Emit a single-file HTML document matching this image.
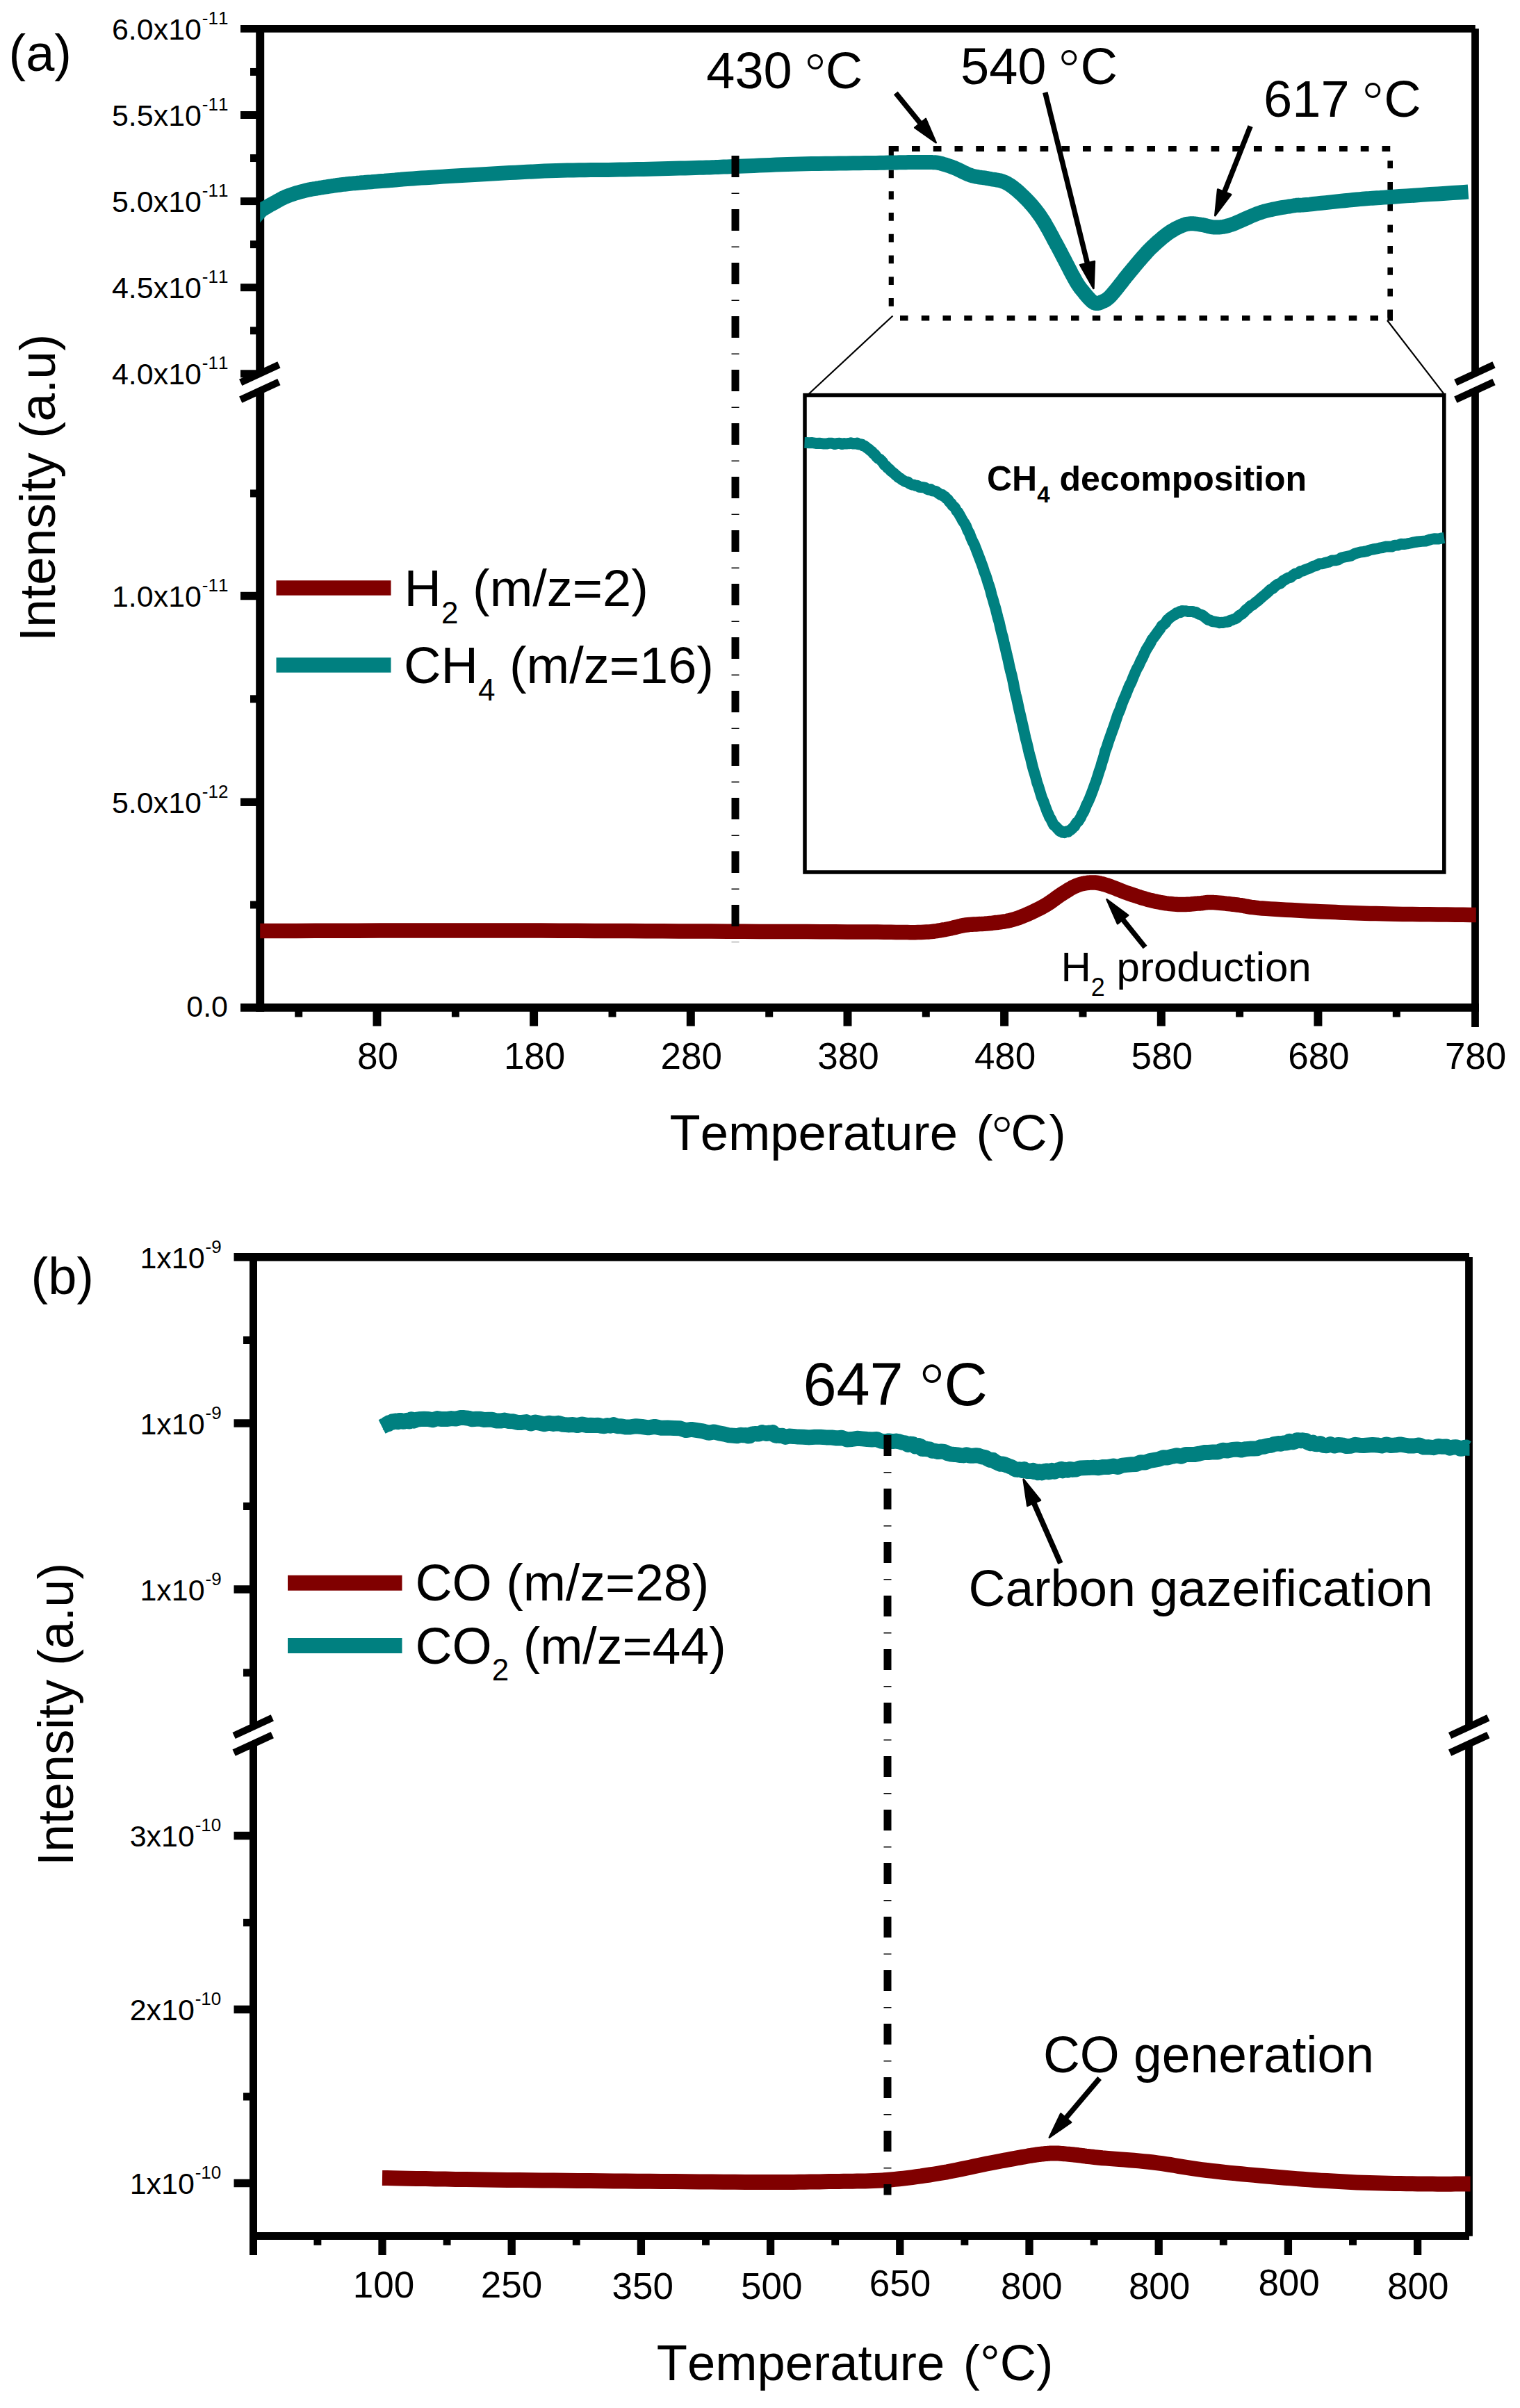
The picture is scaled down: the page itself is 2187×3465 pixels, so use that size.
<!DOCTYPE html>
<html lang="en"><head><meta charset="utf-8"><title>TPSR MS profiles</title>
<style>html,body{margin:0;padding:0;background:#fff}svg{display:block}text{font-family:"Liberation Sans", Arial, sans-serif;fill:#000;font-kerning:none}</style>
</head><body>
<svg width="2187" height="3465" viewBox="0 0 2187 3465">
<rect width="2187" height="3465" fill="#fff"/>
<g id="chart-a">
<line x1="1281.25" y1="214" x2="2004" y2="214" stroke="#000" stroke-width="7.8" stroke-dasharray="11.75 19"/>
<line x1="1282.3" y1="210.1" x2="1282.3" y2="445" stroke="#000" stroke-width="7.2" stroke-dasharray="15.4 19 11.75 19 11.75 19 11.75 19 11.75 19 11.75 19 11.75 19 11.75 19"/>
<line x1="2000.2" y1="231.3" x2="2000.2" y2="461.6" stroke="#000" stroke-width="7.6" stroke-dasharray="11 19.7"/>
<line x1="1295" y1="457.8" x2="1990" y2="457.8" stroke="#000" stroke-width="7.6" stroke-dasharray="11.5 19.25"/>
<rect x="1996.4" y="445.5" width="7.6" height="16.1" fill="#000"/>
<line x1="1284.5" y1="454.5" x2="1163.5" y2="567" stroke="#000" stroke-width="2.2" />
<line x1="1996" y1="461" x2="2077.6" y2="566.8" stroke="#000" stroke-width="2.2" />
<rect x="1158" y="568.6" width="919.8" height="686.4" fill="none" stroke="#000" stroke-width="5.5"/>
<path d="M1157.5 637.0 L1160.3 637.1 L1164.2 637.3 L1168.7 637.1 L1173.8 637.9 L1179.0 637.8 L1184.2 638.4 L1189.1 638.6 L1193.4 637.7 L1197.3 637.7 L1201.0 639.1 L1204.6 638.0 L1208.1 637.8 L1211.4 639.1 L1214.5 638.0 L1217.4 638.6 L1220.0 638.0 L1222.3 638.2 L1224.2 637.3 L1225.9 638.1 L1227.4 638.5 L1228.7 637.9 L1230.1 638.4 L1231.6 638.5 L1233.2 637.7 L1234.9 639.3 L1236.6 639.4 L1238.4 639.3 L1240.1 639.4 L1241.9 641.5 L1243.8 641.6 L1245.7 643.1 L1247.7 644.7 L1249.8 646.0 L1252.0 648.2 L1254.2 649.4 L1256.5 652.4 L1258.9 654.1 L1261.2 657.4 L1263.5 659.7 L1265.8 660.6 L1268.1 662.9 L1270.3 665.4 L1272.6 669.1 L1274.8 670.5 L1277.1 673.2 L1279.4 674.9 L1281.6 677.4 L1283.9 679.2 L1286.2 681.0 L1288.4 683.2 L1290.7 684.9 L1293.0 687.1 L1295.2 688.2 L1297.5 690.1 L1299.7 691.4 L1302.0 692.9 L1304.2 693.5 L1306.4 693.6 L1308.6 695.8 L1310.8 696.9 L1313.0 697.6 L1315.2 697.8 L1317.6 698.8 L1320.0 698.8 L1322.6 700.7 L1325.3 701.0 L1328.1 701.3 L1330.9 701.6 L1333.7 703.8 L1336.5 704.8 L1339.2 704.1 L1341.8 706.3 L1344.3 706.7 L1346.7 707.2 L1349.0 708.6 L1351.3 710.6 L1353.5 712.0 L1355.7 711.8 L1357.8 714.2 L1359.9 714.8 L1361.9 717.6 L1363.7 718.6 L1365.4 721.3 L1367.1 723.3 L1368.8 724.5 L1370.5 727.6 L1372.3 728.8 L1374.3 731.1 L1376.4 735.1 L1378.6 737.4 L1380.8 741.3 L1383.1 745.4 L1385.4 749.7 L1387.8 753.1 L1390.1 757.2 L1392.4 763.3 L1394.7 767.1 L1397.0 773.4 L1399.3 778.7 L1401.7 783.3 L1404.0 789.1 L1406.2 794.9 L1408.4 800.7 L1410.5 806.2 L1412.5 811.5 L1414.4 816.8 L1416.2 822.6 L1418.0 827.1 L1419.7 832.3 L1421.5 838.3 L1423.2 843.1 L1425.0 849.1 L1426.8 856.6 L1428.6 862.2 L1430.4 868.8 L1432.2 874.6 L1434.1 882.2 L1435.9 889.5 L1437.7 895.6 L1439.5 903.9 L1441.3 911.3 L1443.1 917.7 L1444.9 926.3 L1446.8 933.8 L1448.6 941.9 L1450.4 949.2 L1452.2 957.8 L1454.0 965.7 L1455.8 972.4 L1457.6 980.6 L1459.4 989.9 L1461.2 998.7 L1463.0 1005.6 L1464.8 1014.2 L1466.6 1022.6 L1468.4 1030.1 L1470.2 1038.1 L1472.0 1045.9 L1473.8 1054.0 L1475.6 1062.2 L1477.5 1069.4 L1479.3 1077.1 L1481.1 1085.2 L1482.9 1091.0 L1484.7 1099.0 L1486.5 1106.1 L1488.3 1112.0 L1490.2 1118.3 L1492.0 1125.7 L1493.8 1130.7 L1495.6 1136.5 L1497.4 1142.5 L1499.2 1148.3 L1501.1 1152.5 L1503.0 1157.9 L1504.8 1162.7 L1506.7 1168.0 L1508.4 1171.5 L1510.2 1176.0 L1511.8 1178.2 L1513.3 1181.4 L1514.8 1184.5 L1516.2 1187.1 L1517.5 1188.1 L1518.8 1189.2 L1520.1 1190.4 L1521.4 1192.4 L1522.7 1192.9 L1524.0 1195.1 L1525.2 1196.1 L1526.5 1195.7 L1527.7 1196.5 L1528.9 1197.8 L1530.2 1197.8 L1531.5 1198.2 L1532.8 1197.2 L1534.2 1196.6 L1535.5 1196.5 L1536.9 1196.9 L1538.3 1195.3 L1539.8 1194.5 L1541.3 1193.5 L1542.8 1192.1 L1544.4 1190.3 L1546.0 1189.3 L1547.7 1185.8 L1549.5 1183.2 L1551.2 1182.3 L1553.1 1179.3 L1555.0 1176.3 L1556.9 1171.7 L1558.9 1168.7 L1561.0 1164.3 L1563.2 1158.4 L1565.4 1154.2 L1567.7 1149.0 L1570.1 1143.0 L1572.4 1136.9 L1574.7 1130.4 L1577.0 1124.2 L1579.2 1117.5 L1581.4 1110.3 L1583.6 1104.1 L1585.8 1096.2 L1588.0 1089.6 L1590.2 1080.7 L1592.6 1074.7 L1595.0 1066.9 L1597.5 1059.9 L1600.2 1052.3 L1602.9 1044.7 L1605.7 1036.4 L1608.5 1027.8 L1611.3 1021.7 L1614.1 1013.4 L1616.8 1006.6 L1619.5 1000.5 L1622.2 993.6 L1624.9 987.0 L1627.7 981.6 L1630.4 974.8 L1633.1 968.3 L1635.8 962.3 L1638.5 957.7 L1641.2 951.4 L1643.9 946.4 L1646.6 940.3 L1649.3 934.8 L1652.1 930.3 L1654.8 926.0 L1657.5 920.3 L1660.2 917.1 L1663.0 913.3 L1665.8 909.2 L1668.7 905.6 L1671.6 900.7 L1674.4 898.6 L1677.1 896.1 L1679.6 892.0 L1681.9 890.1 L1684.0 888.1 L1685.9 887.0 L1687.6 885.6 L1689.2 884.7 L1690.7 884.5 L1692.2 882.4 L1693.6 881.9 L1695.0 881.3 L1696.3 880.7 L1697.5 880.0 L1698.6 881.2 L1699.6 880.7 L1700.7 879.0 L1701.9 879.6 L1703.3 879.2 L1704.9 879.2 L1706.8 879.3 L1708.8 879.9 L1711.1 880.0 L1713.4 879.9 L1715.9 880.0 L1718.3 880.7 L1720.7 881.0 L1723.0 882.5 L1725.3 883.8 L1727.5 884.4 L1729.8 885.2 L1732.0 886.9 L1734.3 888.7 L1736.6 890.6 L1738.8 892.1 L1741.1 892.4 L1743.4 893.9 L1745.6 894.3 L1747.9 894.6 L1750.1 895.0 L1752.4 895.6 L1754.7 896.2 L1756.9 895.7 L1759.2 896.1 L1761.4 895.5 L1763.6 894.8 L1765.7 894.9 L1767.8 894.5 L1770.0 892.6 L1772.3 892.3 L1774.7 891.1 L1777.3 890.4 L1780.1 888.7 L1783.0 885.6 L1786.1 884.1 L1789.3 881.4 L1792.5 877.7 L1795.8 875.3 L1799.2 871.9 L1802.6 870.4 L1806.0 867.3 L1809.6 864.7 L1813.2 861.5 L1816.9 858.2 L1820.6 855.3 L1824.3 852.0 L1828.0 848.3 L1831.6 846.5 L1835.2 842.9 L1838.8 840.6 L1842.4 839.4 L1846.0 835.8 L1849.7 833.7 L1853.3 831.5 L1856.9 830.9 L1860.5 827.6 L1864.1 825.4 L1867.6 825.1 L1871.1 822.0 L1874.5 821.6 L1878.1 819.7 L1881.7 818.4 L1885.5 817.1 L1889.5 814.9 L1893.7 813.9 L1898.0 811.2 L1902.6 811.2 L1907.2 809.6 L1911.8 808.7 L1916.5 806.4 L1921.1 806.3 L1925.7 805.4 L1930.2 802.5 L1934.7 801.5 L1939.2 800.6 L1943.8 799.6 L1948.3 797.2 L1952.8 795.7 L1957.3 794.5 L1961.8 794.0 L1966.3 793.2 L1970.8 791.5 L1975.4 790.5 L1979.9 789.7 L1984.4 788.7 L1988.9 788.0 L1993.5 786.6 L1998.0 786.5 L2002.5 786.5 L2006.9 784.7 L2011.2 784.6 L2015.6 782.8 L2020.1 783.0 L2024.6 782.4 L2029.3 781.5 L2034.2 780.4 L2039.6 779.5 L2045.6 778.9 L2052.0 778.4 L2058.4 776.1 L2064.4 775.2 L2070.0 775.5 L2074.6 774.4 L2078.0 773.9" fill="none" stroke="#008080" stroke-width="16" stroke-linecap="butt" stroke-linejoin="round" />
<text x="1420" y="706" font-size="50" font-weight="bold">CH<tspan font-size="33" dy="17">4</tspan><tspan dy="-17"> decomposition</tspan></text>
<line x1="346" y1="41.4" x2="2122.7" y2="41.4" stroke="#000" stroke-width="10.8" />
<line x1="346" y1="1449.9" x2="2128" y2="1449.9" stroke="#000" stroke-width="11.9" />
<line x1="374.2" y1="36" x2="374.2" y2="1455.8" stroke="#000" stroke-width="12" />
<line x1="2122.5" y1="41.2" x2="2122.5" y2="1478" stroke="#000" stroke-width="10.8" />
<text x="290" y="56.9" font-size="43" text-anchor="end">6.0x10<tspan x="290.8" dy="-22" font-size="26" text-anchor="start">-11</tspan></text>
<line x1="360" y1="103.44999999999999" x2="370" y2="103.44999999999999" stroke="#000" stroke-width="11" />
<line x1="346" y1="165.5" x2="370" y2="165.5" stroke="#000" stroke-width="11" />
<text x="290" y="181.0" font-size="43" text-anchor="end">5.5x10<tspan x="290.8" dy="-22" font-size="26" text-anchor="start">-11</tspan></text>
<line x1="360" y1="227.55" x2="370" y2="227.55" stroke="#000" stroke-width="11" />
<line x1="346" y1="289.59999999999997" x2="370" y2="289.59999999999997" stroke="#000" stroke-width="11" />
<text x="290" y="305.1" font-size="43" text-anchor="end">5.0x10<tspan x="290.8" dy="-22" font-size="26" text-anchor="start">-11</tspan></text>
<line x1="360" y1="351.65" x2="370" y2="351.65" stroke="#000" stroke-width="11" />
<line x1="346" y1="413.69999999999993" x2="370" y2="413.69999999999993" stroke="#000" stroke-width="11" />
<text x="290" y="429.2" font-size="43" text-anchor="end">4.5x10<tspan x="290.8" dy="-22" font-size="26" text-anchor="start">-11</tspan></text>
<line x1="360" y1="475.74999999999994" x2="370" y2="475.74999999999994" stroke="#000" stroke-width="11" />
<line x1="346" y1="537.8" x2="370" y2="537.8" stroke="#000" stroke-width="11" />
<text x="290" y="553.3" font-size="43" text-anchor="end">4.0x10<tspan x="290.8" dy="-22" font-size="26" text-anchor="start">-11</tspan></text>
<line x1="346" y1="857.5" x2="370" y2="857.5" stroke="#000" stroke-width="11.5" />
<text x="290" y="873.0" font-size="43" text-anchor="end">1.0x10<tspan x="290.8" dy="-22" font-size="26" text-anchor="start">-11</tspan></text>
<line x1="346" y1="1154.2" x2="370" y2="1154.2" stroke="#000" stroke-width="11.5" />
<text x="290" y="1169.7" font-size="43" text-anchor="end">5.0x10<tspan x="290.8" dy="-22" font-size="26" text-anchor="start">-12</tspan></text>
<text x="328" y="1462.5" font-size="43" text-anchor="end" >0.0</text>
<line x1="360" y1="710" x2="370" y2="710" stroke="#000" stroke-width="11" />
<line x1="360" y1="1005.8" x2="370" y2="1005.8" stroke="#000" stroke-width="11" />
<line x1="360" y1="1302" x2="370" y2="1302" stroke="#000" stroke-width="11" />
<line x1="361.8" y1="555.57" x2="385.8" y2="544.43" stroke="#fff" stroke-width="13.5" />
<line x1="346.2" y1="550.4" x2="401.4" y2="524.8" stroke="#000" stroke-width="10.1" />
<line x1="346.2" y1="575.2" x2="401.4" y2="549.6" stroke="#000" stroke-width="10.1" />
<line x1="2109.9" y1="555.62" x2="2133.9" y2="544.48" stroke="#fff" stroke-width="13.5" />
<line x1="2094.3" y1="550.5" x2="2149.5" y2="524.9" stroke="#000" stroke-width="10.1" />
<line x1="2094.3" y1="575.2" x2="2149.5" y2="549.6" stroke="#000" stroke-width="10.1" />
<line x1="542.5" y1="1450" x2="542.5" y2="1476.5" stroke="#000" stroke-width="12" />
<text x="543.5" y="1537.6" font-size="53" text-anchor="middle" >80</text>
<line x1="429.7" y1="1450" x2="429.7" y2="1463.5" stroke="#000" stroke-width="11" />
<line x1="768.1" y1="1450" x2="768.1" y2="1476.5" stroke="#000" stroke-width="12" />
<text x="769.1" y="1537.6" font-size="53" text-anchor="middle" >180</text>
<line x1="655.4" y1="1450" x2="655.4" y2="1463.5" stroke="#000" stroke-width="11" />
<line x1="993.8" y1="1450" x2="993.8" y2="1476.5" stroke="#000" stroke-width="12" />
<text x="994.8" y="1537.6" font-size="53" text-anchor="middle" >280</text>
<line x1="881.0" y1="1450" x2="881.0" y2="1463.5" stroke="#000" stroke-width="11" />
<line x1="1219.5" y1="1450" x2="1219.5" y2="1476.5" stroke="#000" stroke-width="12" />
<text x="1220.5" y="1537.6" font-size="53" text-anchor="middle" >380</text>
<line x1="1106.7" y1="1450" x2="1106.7" y2="1463.5" stroke="#000" stroke-width="11" />
<line x1="1445.1" y1="1450" x2="1445.1" y2="1476.5" stroke="#000" stroke-width="12" />
<text x="1446.1" y="1537.6" font-size="53" text-anchor="middle" >480</text>
<line x1="1332.3" y1="1450" x2="1332.3" y2="1463.5" stroke="#000" stroke-width="11" />
<line x1="1670.8" y1="1450" x2="1670.8" y2="1476.5" stroke="#000" stroke-width="12" />
<text x="1671.8" y="1537.6" font-size="53" text-anchor="middle" >580</text>
<line x1="1558.0" y1="1450" x2="1558.0" y2="1463.5" stroke="#000" stroke-width="11" />
<line x1="1896.4" y1="1450" x2="1896.4" y2="1476.5" stroke="#000" stroke-width="12" />
<text x="1897.4" y="1537.6" font-size="53" text-anchor="middle" >680</text>
<line x1="1783.6" y1="1450" x2="1783.6" y2="1463.5" stroke="#000" stroke-width="11" />
<text x="2123.1" y="1537.6" font-size="53" text-anchor="middle" >780</text>
<line x1="2009.3" y1="1450" x2="2009.3" y2="1463.5" stroke="#000" stroke-width="11" />
<clipPath id="clipA"><rect x="374.2" y="0" width="1749.6" height="1500"/></clipPath>
<g clip-path="url(#clipA)">
<path d="M360.0 321.0 L360.7 320.2 L361.6 319.1 L362.7 317.8 L363.9 316.3 L365.2 314.8 L366.5 313.1 L367.9 311.5 L369.3 309.8 L370.7 308.3 L372.0 306.8 L373.2 305.6 L374.2 304.5 L375.1 303.6 L376.0 302.9 L376.8 302.2 L377.5 301.6 L378.2 301.2 L378.9 300.7 L379.5 300.3 L380.2 299.9 L380.8 299.6 L381.5 299.2 L382.2 298.8 L383.0 298.3 L383.8 297.8 L384.5 297.4 L385.2 297.0 L385.9 296.6 L386.6 296.2 L387.3 295.8 L388.0 295.3 L388.8 294.9 L389.7 294.4 L390.7 293.9 L391.7 293.3 L392.9 292.7 L394.2 292.0 L395.5 291.2 L397.0 290.4 L398.5 289.6 L400.1 288.7 L401.7 287.8 L403.4 286.8 L405.2 285.9 L407.0 285.0 L408.8 284.1 L410.7 283.3 L412.6 282.5 L414.6 281.7 L416.6 281.0 L418.7 280.2 L420.9 279.5 L423.1 278.8 L425.3 278.1 L427.6 277.4 L429.9 276.7 L432.2 276.1 L434.4 275.4 L436.7 274.9 L438.9 274.3 L441.1 273.8 L443.3 273.3 L445.5 272.8 L447.7 272.4 L449.9 272.0 L452.1 271.6 L454.3 271.3 L456.5 270.9 L458.7 270.6 L460.9 270.2 L463.1 269.9 L465.3 269.5 L467.5 269.1 L469.7 268.8 L471.9 268.5 L474.1 268.1 L476.3 267.8 L478.5 267.5 L480.6 267.2 L482.8 266.8 L485.0 266.5 L487.2 266.3 L489.4 266.0 L491.6 265.7 L493.7 265.4 L495.8 265.2 L497.8 265.0 L499.8 264.7 L501.8 264.5 L503.8 264.3 L505.8 264.1 L508.0 263.9 L510.2 263.7 L512.6 263.5 L515.2 263.2 L517.9 263.0 L520.9 262.7 L524.0 262.5 L527.4 262.2 L530.8 261.9 L534.4 261.7 L538.1 261.4 L541.8 261.1 L545.5 260.8 L549.3 260.5 L552.9 260.3 L556.5 260.0 L560.0 259.7 L563.2 259.4 L566.1 259.2 L568.7 259.0 L571.3 258.7 L573.8 258.5 L576.4 258.3 L579.2 258.0 L582.3 257.8 L585.8 257.5 L589.9 257.2 L594.6 256.9 L600.0 256.5 L606.2 256.1 L613.2 255.7 L620.8 255.2 L628.9 254.7 L637.4 254.1 L646.2 253.6 L655.3 253.1 L664.4 252.5 L673.6 252.0 L682.6 251.5 L691.5 251.0 L700.0 250.5 L708.3 250.0 L716.7 249.6 L725.0 249.1 L733.3 248.6 L741.7 248.2 L750.0 247.7 L758.3 247.3 L766.7 246.9 L775.0 246.5 L783.3 246.1 L791.7 245.8 L800.0 245.5 L808.3 245.3 L816.7 245.1 L825.0 244.9 L833.3 244.8 L841.7 244.7 L850.0 244.6 L858.3 244.5 L866.7 244.4 L875.0 244.4 L883.3 244.3 L891.7 244.1 L900.0 244.0 L908.5 243.8 L917.2 243.6 L926.0 243.4 L934.9 243.2 L943.8 243.0 L952.7 242.8 L961.4 242.6 L969.9 242.3 L978.0 242.1 L985.8 241.9 L993.2 241.7 L1000.0 241.5 L1006.1 241.3 L1011.6 241.2 L1016.4 241.0 L1020.9 240.9 L1025.0 240.7 L1028.9 240.6 L1032.9 240.4 L1036.9 240.3 L1041.2 240.1 L1045.9 239.9 L1051.1 239.7 L1057.0 239.5 L1063.4 239.3 L1070.2 239.0 L1077.3 238.7 L1084.7 238.4 L1092.3 238.1 L1100.2 237.7 L1108.2 237.4 L1116.4 237.1 L1124.7 236.8 L1133.1 236.5 L1141.5 236.2 L1150.0 236.0 L1158.8 235.8 L1168.0 235.6 L1177.7 235.4 L1187.6 235.3 L1197.7 235.2 L1207.7 235.0 L1217.6 234.9 L1227.1 234.8 L1236.3 234.7 L1244.9 234.6 L1252.9 234.5 L1260.0 234.4 L1266.3 234.3 L1272.0 234.2 L1277.2 234.1 L1281.9 234.0 L1286.1 234.0 L1290.0 233.9 L1293.6 233.8 L1297.0 233.8 L1300.3 233.7 L1303.5 233.7 L1306.7 233.6 L1310.0 233.6 L1313.3 233.6 L1316.4 233.5 L1319.3 233.5 L1322.1 233.5 L1324.8 233.5 L1327.4 233.5 L1329.8 233.5 L1332.1 233.5 L1334.2 233.5 L1336.3 233.5 L1338.2 233.6 L1340.0 233.6 L1341.6 233.6 L1342.9 233.7 L1344.1 233.7 L1345.0 233.7 L1345.8 233.7 L1346.6 233.8 L1347.3 233.9 L1348.0 234.0 L1348.8 234.1 L1349.7 234.3 L1350.8 234.5 L1352.0 234.8 L1353.4 235.1 L1354.9 235.5 L1356.4 235.9 L1358.0 236.4 L1359.7 236.9 L1361.4 237.4 L1363.2 238.0 L1365.0 238.6 L1366.9 239.2 L1368.7 239.9 L1370.6 240.6 L1372.5 241.3 L1374.4 242.1 L1376.4 243.0 L1378.4 243.9 L1380.5 244.9 L1382.6 246.0 L1384.7 247.0 L1386.9 248.1 L1389.0 249.1 L1391.1 250.1 L1393.3 251.0 L1395.4 251.8 L1397.5 252.5 L1399.6 253.1 L1401.7 253.6 L1403.8 254.1 L1405.8 254.4 L1407.9 254.8 L1410.0 255.1 L1412.1 255.4 L1414.2 255.6 L1416.2 255.9 L1418.3 256.2 L1420.4 256.6 L1422.5 257.0 L1424.6 257.4 L1426.7 257.8 L1428.8 258.1 L1430.8 258.4 L1432.9 258.7 L1435.0 259.1 L1437.1 259.5 L1439.2 259.9 L1441.2 260.5 L1443.3 261.2 L1445.4 262.0 L1447.5 263.0 L1449.6 264.1 L1451.7 265.4 L1453.8 266.7 L1455.8 268.1 L1457.9 269.7 L1460.0 271.3 L1462.1 273.0 L1464.2 274.8 L1466.2 276.6 L1468.3 278.5 L1470.4 280.5 L1472.5 282.5 L1474.6 284.6 L1476.7 286.7 L1478.8 288.8 L1480.8 291.0 L1482.9 293.3 L1485.0 295.7 L1487.1 298.2 L1489.2 300.7 L1491.2 303.3 L1493.3 306.1 L1495.4 309.0 L1497.5 312.0 L1499.6 315.2 L1501.7 318.5 L1503.8 322.0 L1505.8 325.6 L1507.9 329.2 L1510.0 333.0 L1512.1 336.9 L1514.2 340.7 L1516.2 344.7 L1518.3 348.6 L1520.4 352.4 L1522.5 356.3 L1524.6 360.2 L1526.8 364.4 L1529.0 368.7 L1531.3 373.0 L1533.5 377.4 L1535.8 381.7 L1538.0 386.0 L1540.1 390.1 L1542.1 394.0 L1544.1 397.6 L1545.9 400.9 L1547.5 403.8 L1549.0 406.3 L1550.3 408.5 L1551.6 410.4 L1552.7 412.1 L1553.7 413.5 L1554.7 414.8 L1555.6 416.0 L1556.5 417.0 L1557.3 418.1 L1558.2 419.1 L1559.1 420.2 L1560.0 421.3 L1560.9 422.5 L1561.8 423.6 L1562.7 424.7 L1563.6 425.8 L1564.5 426.8 L1565.3 427.7 L1566.2 428.7 L1567.0 429.5 L1567.8 430.4 L1568.5 431.1 L1569.3 431.8 L1570.0 432.5 L1570.7 433.1 L1571.3 433.7 L1571.9 434.1 L1572.5 434.6 L1573.1 435.0 L1573.6 435.3 L1574.2 435.6 L1574.7 435.9 L1575.2 436.1 L1575.8 436.3 L1576.4 436.4 L1577.0 436.5 L1577.6 436.6 L1578.2 436.6 L1578.8 436.6 L1579.4 436.5 L1580.0 436.4 L1580.7 436.3 L1581.3 436.1 L1582.0 435.8 L1582.7 435.6 L1583.4 435.3 L1584.2 434.9 L1585.0 434.5 L1585.8 434.1 L1586.7 433.8 L1587.5 433.4 L1588.4 433.1 L1589.3 432.7 L1590.2 432.2 L1591.2 431.6 L1592.2 430.9 L1593.4 430.1 L1594.6 429.0 L1596.0 427.8 L1597.5 426.3 L1599.2 424.5 L1601.0 422.4 L1603.0 420.0 L1605.2 417.3 L1607.4 414.6 L1609.7 411.7 L1612.0 408.8 L1614.3 405.9 L1616.5 403.0 L1618.6 400.3 L1620.6 397.8 L1622.5 395.5 L1624.2 393.4 L1625.8 391.4 L1627.4 389.5 L1628.9 387.7 L1630.3 386.0 L1631.7 384.3 L1633.1 382.6 L1634.4 381.0 L1635.8 379.4 L1637.1 377.8 L1638.5 376.2 L1640.0 374.5 L1641.5 372.8 L1642.9 371.2 L1644.3 369.5 L1645.8 367.9 L1647.2 366.3 L1648.7 364.7 L1650.1 363.0 L1651.6 361.4 L1653.1 359.8 L1654.7 358.2 L1656.3 356.6 L1658.0 355.0 L1659.8 353.3 L1661.6 351.6 L1663.5 349.9 L1665.4 348.2 L1667.4 346.4 L1669.4 344.7 L1671.4 343.0 L1673.4 341.3 L1675.4 339.7 L1677.3 338.2 L1679.2 336.8 L1681.0 335.5 L1682.7 334.3 L1684.5 333.1 L1686.2 332.1 L1687.9 331.1 L1689.5 330.1 L1691.1 329.2 L1692.7 328.4 L1694.3 327.6 L1695.8 326.9 L1697.2 326.2 L1698.6 325.6 L1700.0 325.0 L1701.3 324.5 L1702.5 324.0 L1703.6 323.6 L1704.6 323.2 L1705.6 322.9 L1706.6 322.6 L1707.6 322.4 L1708.6 322.2 L1709.6 322.1 L1710.7 322.0 L1711.8 321.9 L1713.0 321.8 L1714.3 321.8 L1715.6 321.8 L1716.9 321.8 L1718.3 321.9 L1719.7 322.1 L1721.2 322.2 L1722.6 322.4 L1724.1 322.6 L1725.6 322.8 L1727.1 323.1 L1728.5 323.3 L1730.0 323.5 L1731.4 323.8 L1732.9 324.1 L1734.3 324.4 L1735.7 324.8 L1737.2 325.2 L1738.6 325.6 L1740.1 325.9 L1741.6 326.3 L1743.1 326.6 L1744.7 326.8 L1746.3 326.9 L1748.0 327.0 L1749.7 327.0 L1751.3 327.0 L1752.9 327.0 L1754.5 326.9 L1756.1 326.8 L1757.8 326.6 L1759.6 326.4 L1761.5 326.0 L1763.6 325.6 L1765.8 325.0 L1768.3 324.3 L1771.0 323.5 L1774.0 322.5 L1777.2 321.2 L1780.7 319.7 L1784.4 318.1 L1788.2 316.4 L1792.1 314.6 L1796.1 312.8 L1800.2 311.0 L1804.2 309.3 L1808.2 307.7 L1812.2 306.3 L1816.0 305.0 L1819.8 303.9 L1823.8 302.9 L1827.9 301.9 L1832.0 301.0 L1836.1 300.2 L1840.1 299.4 L1844.1 298.7 L1847.9 298.1 L1851.6 297.5 L1855.0 297.0 L1858.2 296.5 L1861.0 296.0 L1863.3 295.6 L1865.1 295.4 L1866.3 295.2 L1867.3 295.2 L1868.1 295.1 L1868.8 295.2 L1869.6 295.2 L1870.7 295.2 L1872.1 295.1 L1874.1 295.0 L1876.6 294.8 L1880.0 294.5 L1884.2 294.1 L1889.2 293.5 L1894.9 292.9 L1901.1 292.3 L1907.6 291.6 L1914.4 290.9 L1921.2 290.1 L1928.0 289.4 L1934.7 288.7 L1940.9 288.1 L1946.8 287.5 L1952.0 287.0 L1956.5 286.6 L1960.2 286.3 L1963.5 286.0 L1966.4 285.8 L1969.1 285.6 L1971.8 285.4 L1974.6 285.2 L1977.8 285.0 L1981.4 284.7 L1985.7 284.5 L1990.9 284.1 L1997.0 283.7 L2004.5 283.2 L2013.5 282.6 L2023.6 281.9 L2034.6 281.2 L2046.0 280.4 L2057.6 279.6 L2069.0 278.9 L2079.9 278.2 L2090.1 277.5 L2099.1 276.9 L2106.7 276.4 L2112.5 276.0" fill="none" stroke="#008080" stroke-width="21" stroke-linecap="butt" stroke-linejoin="round" />
<path d="M366.0 1339.5 L382.2 1339.5 L402.7 1339.4 L426.8 1339.4 L453.9 1339.3 L483.2 1339.3 L514.2 1339.2 L546.3 1339.1 L578.8 1339.1 L611.1 1339.0 L642.4 1339.0 L672.3 1339.0 L700.0 1339.0 L726.3 1339.0 L752.5 1339.1 L778.6 1339.1 L804.4 1339.2 L829.9 1339.3 L855.2 1339.4 L880.3 1339.5 L905.0 1339.6 L929.3 1339.7 L953.3 1339.8 L976.9 1339.9 L1000.0 1340.0 L1023.1 1340.1 L1046.6 1340.2 L1070.1 1340.3 L1093.5 1340.4 L1116.6 1340.4 L1139.1 1340.5 L1160.8 1340.6 L1181.5 1340.7 L1201.0 1340.8 L1219.0 1340.9 L1235.5 1340.9 L1250.0 1341.0 L1262.5 1341.1 L1273.1 1341.2 L1282.0 1341.3 L1289.4 1341.4 L1295.7 1341.5 L1300.9 1341.6 L1305.4 1341.6 L1309.4 1341.7 L1313.2 1341.7 L1316.8 1341.7 L1320.7 1341.6 L1325.0 1341.5 L1329.3 1341.3 L1333.2 1341.1 L1336.7 1340.9 L1339.8 1340.6 L1342.7 1340.3 L1345.3 1339.9 L1347.8 1339.6 L1350.2 1339.2 L1352.5 1338.8 L1354.9 1338.4 L1357.4 1337.9 L1360.0 1337.5 L1362.7 1337.0 L1365.2 1336.5 L1367.7 1336.0 L1370.2 1335.4 L1372.6 1334.8 L1375.0 1334.2 L1377.4 1333.6 L1379.8 1333.0 L1382.3 1332.4 L1384.8 1331.9 L1387.3 1331.4 L1390.0 1331.0 L1392.7 1330.7 L1395.5 1330.4 L1398.4 1330.2 L1401.3 1330.0 L1404.2 1329.9 L1407.2 1329.7 L1410.2 1329.6 L1413.1 1329.4 L1416.1 1329.3 L1419.1 1329.1 L1422.1 1328.8 L1425.0 1328.5 L1427.9 1328.2 L1430.8 1327.8 L1433.6 1327.5 L1436.5 1327.2 L1439.3 1326.8 L1442.2 1326.4 L1445.1 1326.0 L1448.0 1325.5 L1450.9 1324.9 L1453.9 1324.2 L1456.9 1323.4 L1460.0 1322.5 L1463.2 1321.5 L1466.5 1320.3 L1469.9 1319.0 L1473.3 1317.6 L1476.8 1316.2 L1480.3 1314.6 L1483.8 1313.1 L1487.2 1311.4 L1490.6 1309.8 L1493.9 1308.2 L1497.0 1306.6 L1500.0 1305.0 L1502.9 1303.4 L1505.7 1301.7 L1508.4 1300.0 L1511.1 1298.2 L1513.7 1296.4 L1516.2 1294.6 L1518.7 1292.8 L1521.1 1291.1 L1523.4 1289.4 L1525.7 1287.8 L1527.9 1286.4 L1530.0 1285.0 L1532.0 1283.7 L1533.9 1282.6 L1535.7 1281.5 L1537.4 1280.4 L1539.0 1279.4 L1540.6 1278.5 L1542.2 1277.6 L1543.7 1276.8 L1545.2 1276.0 L1546.8 1275.3 L1548.4 1274.6 L1550.0 1274.0 L1551.7 1273.4 L1553.3 1272.8 L1555.0 1272.3 L1556.7 1271.9 L1558.3 1271.5 L1560.0 1271.1 L1561.7 1270.8 L1563.3 1270.6 L1565.0 1270.3 L1566.7 1270.2 L1568.3 1270.1 L1570.0 1270.0 L1571.6 1270.0 L1573.2 1270.0 L1574.6 1270.0 L1576.1 1270.1 L1577.6 1270.2 L1579.1 1270.4 L1580.6 1270.7 L1582.2 1271.0 L1583.9 1271.4 L1585.8 1271.8 L1587.8 1272.4 L1590.0 1273.0 L1592.4 1273.7 L1595.0 1274.6 L1597.7 1275.6 L1600.6 1276.7 L1603.5 1277.8 L1606.6 1279.0 L1609.7 1280.3 L1612.8 1281.5 L1615.9 1282.7 L1619.0 1283.9 L1622.0 1285.0 L1625.0 1286.0 L1627.9 1287.0 L1630.8 1288.0 L1633.8 1288.9 L1636.7 1289.9 L1639.6 1290.8 L1642.5 1291.8 L1645.4 1292.6 L1648.3 1293.5 L1651.2 1294.3 L1654.2 1295.1 L1657.1 1295.8 L1660.0 1296.5 L1662.9 1297.1 L1665.9 1297.7 L1668.9 1298.3 L1671.9 1298.8 L1674.8 1299.3 L1677.8 1299.8 L1680.8 1300.2 L1683.7 1300.5 L1686.6 1300.8 L1689.5 1301.1 L1692.3 1301.3 L1695.0 1301.5 L1697.7 1301.6 L1700.4 1301.6 L1703.1 1301.6 L1705.8 1301.5 L1708.4 1301.3 L1711.0 1301.2 L1713.5 1301.0 L1716.0 1300.7 L1718.4 1300.5 L1720.7 1300.3 L1722.9 1300.1 L1725.0 1300.0 L1726.9 1299.9 L1728.6 1299.7 L1730.1 1299.5 L1731.5 1299.3 L1732.8 1299.1 L1734.1 1298.9 L1735.4 1298.8 L1736.8 1298.6 L1738.3 1298.5 L1740.0 1298.5 L1741.9 1298.4 L1744.0 1298.5 L1746.4 1298.6 L1749.0 1298.8 L1751.8 1299.0 L1754.7 1299.2 L1757.8 1299.5 L1760.9 1299.8 L1764.1 1300.2 L1767.4 1300.5 L1770.6 1300.9 L1773.8 1301.3 L1776.9 1301.6 L1780.0 1302.0 L1782.8 1302.4 L1785.4 1302.7 L1787.7 1303.1 L1790.0 1303.6 L1792.2 1304.0 L1794.6 1304.4 L1797.1 1304.8 L1799.9 1305.3 L1803.1 1305.7 L1806.8 1306.1 L1811.1 1306.6 L1816.0 1307.0 L1821.7 1307.4 L1828.0 1307.9 L1834.9 1308.3 L1842.3 1308.7 L1850.1 1309.2 L1858.1 1309.6 L1866.4 1310.1 L1874.7 1310.5 L1883.0 1310.9 L1891.3 1311.3 L1899.3 1311.7 L1907.0 1312.0 L1914.4 1312.3 L1921.6 1312.6 L1928.6 1312.9 L1935.5 1313.2 L1942.4 1313.5 L1949.4 1313.7 L1956.5 1314.0 L1963.9 1314.2 L1971.5 1314.4 L1979.5 1314.6 L1988.0 1314.8 L1997.0 1315.0 L2007.0 1315.2 L2018.2 1315.4 L2030.3 1315.5 L2043.1 1315.7 L2056.1 1315.8 L2069.1 1316.0 L2081.8 1316.1 L2093.9 1316.2 L2105.1 1316.3 L2115.0 1316.4 L2123.4 1316.5 L2130.0 1316.6" fill="none" stroke="#800000" stroke-width="21.5" stroke-linecap="butt" stroke-linejoin="round" />
</g>
<line x1="1058" y1="224" x2="1058" y2="1356" stroke="#000" stroke-width="11" stroke-dasharray="31 22.5 1.5 22"/>
<text x="963.5" y="1654.6" font-size="72.4">Temperature <tspan x="1404.6">(</tspan><tspan x="1421.2" y="1665.7" font-family="'DejaVu Sans Light', 'DejaVu Sans', sans-serif" font-weight="200" font-size="81.9" >&#176;</tspan><tspan x="1454.3" y="1654.6">C</tspan><tspan x="1509.5">)</tspan></text>
<text transform="translate(79 923) rotate(-90)" font-size="73">Intensity (a.u)</text>
<text x="12.5" y="102.2" font-size="74" text-anchor="start" >(a)</text>
<line x1="397.5" y1="846" x2="562.5" y2="846" stroke="#800000" stroke-width="21.5" />
<line x1="397.5" y1="957" x2="562.5" y2="957" stroke="#008080" stroke-width="21.5" />
<text x="581.5" y="871.5" font-size="74">H<tspan font-size="44" dy="25.5">2</tspan><tspan dy="-25.5"> (m/z=2)</tspan></text>
<text x="581" y="982.5" font-size="74">CH<tspan font-size="44" dy="25">4</tspan><tspan dy="-25"> (m/z=16)</tspan></text>
<text x="1016.3" y="127.0" font-size="74">430 <tspan x="1152.5" y="136.9" font-family="'DejaVu Sans Light', 'DejaVu Sans', sans-serif" font-weight="200" font-size="81.9" >&#176;</tspan><tspan x="1187.8" y="127.0">C</tspan></text>
<text x="1382.0" y="120.7" font-size="74">540 <tspan x="1517.7" y="130.9" font-family="'DejaVu Sans Light', 'DejaVu Sans', sans-serif" font-weight="200" font-size="81.9" >&#176;</tspan><tspan x="1554.4" y="120.7">C</tspan></text>
<text x="1818.1" y="167.8" font-size="74">617 <tspan x="1954.7" y="177.9" font-family="'DejaVu Sans Light', 'DejaVu Sans', sans-serif" font-weight="200" font-size="81.9" >&#176;</tspan><tspan x="1991.2" y="167.8">C</tspan></text>
<line x1="1288.8" y1="133.8" x2="1326.0" y2="179.7" stroke="#000" stroke-width="7.5" />
<polygon points="1346.7,205.3 1316.2,183.8 1332.0,171.0" fill="#000" stroke="#000" stroke-width="2.6" stroke-linejoin="round"/>
<line x1="1503.8" y1="133" x2="1565.2" y2="381.6" stroke="#000" stroke-width="7.5" />
<polygon points="1573.4,415.0 1554.1,381.2 1574.9,376.1" fill="#000" stroke="#000" stroke-width="2.6" stroke-linejoin="round"/>
<line x1="1799.1" y1="181.7" x2="1760.6" y2="279.0" stroke="#000" stroke-width="7.5" />
<polygon points="1748.3,310.1 1752.2,272.5 1771.2,280.0" fill="#000" stroke="#000" stroke-width="2.6" stroke-linejoin="round"/>
<line x1="1647.6" y1="1363" x2="1613.7" y2="1320.8" stroke="#000" stroke-width="7.5" />
<polygon points="1592.5,1294.3 1623.2,1317.0 1608.0,1329.2" fill="#000" stroke="#000" stroke-width="2.6" stroke-linejoin="round"/>
<text x="1526.5" y="1412" font-size="60">H<tspan font-size="36" dy="20.7">2</tspan><tspan dy="-20.7"> production</tspan></text>
</g>
<g id="chart-b">
<line x1="336.5" y1="1808.9" x2="2114" y2="1808.9" stroke="#000" stroke-width="11.7" />
<line x1="359" y1="3217.4" x2="2114" y2="3217.4" stroke="#000" stroke-width="11" />
<line x1="364.5" y1="1803.1" x2="364.5" y2="3245" stroke="#000" stroke-width="11" />
<line x1="2113.5" y1="1809" x2="2113.5" y2="3217.8" stroke="#000" stroke-width="10.8" />
<text x="294.7" y="1824.5" font-size="43" text-anchor="end">1x10<tspan x="295.5" dy="-22" font-size="26" text-anchor="start">-9</tspan></text>
<line x1="336.5" y1="2048" x2="360" y2="2048" stroke="#000" stroke-width="11.5" />
<text x="294.7" y="2063.5" font-size="43" text-anchor="end">1x10<tspan x="295.5" dy="-22" font-size="26" text-anchor="start">-9</tspan></text>
<line x1="336.5" y1="2287" x2="360" y2="2287" stroke="#000" stroke-width="11.5" />
<text x="294.7" y="2302.5" font-size="43" text-anchor="end">1x10<tspan x="295.5" dy="-22" font-size="26" text-anchor="start">-9</tspan></text>
<line x1="350" y1="1928.5" x2="360" y2="1928.5" stroke="#000" stroke-width="11" />
<line x1="350" y1="2167.5" x2="360" y2="2167.5" stroke="#000" stroke-width="11" />
<line x1="350" y1="2407" x2="360" y2="2407" stroke="#000" stroke-width="11" />
<line x1="336.5" y1="2641.5" x2="360" y2="2641.5" stroke="#000" stroke-width="11.5" />
<text x="279.9" y="2657.0" font-size="43" text-anchor="end">3x10<tspan x="280.7" dy="-22" font-size="26" text-anchor="start">-10</tspan></text>
<line x1="336.5" y1="2891.5" x2="360" y2="2891.5" stroke="#000" stroke-width="11.5" />
<text x="279.9" y="2907.0" font-size="43" text-anchor="end">2x10<tspan x="280.7" dy="-22" font-size="26" text-anchor="start">-10</tspan></text>
<line x1="336.5" y1="3141.5" x2="360" y2="3141.5" stroke="#000" stroke-width="11.5" />
<text x="279.9" y="3157.0" font-size="43" text-anchor="end">1x10<tspan x="280.7" dy="-22" font-size="26" text-anchor="start">-10</tspan></text>
<line x1="350" y1="2766.5" x2="360" y2="2766.5" stroke="#000" stroke-width="11" />
<line x1="350" y1="3017" x2="360" y2="3017" stroke="#000" stroke-width="11" />
<line x1="352.2" y1="2502.62" x2="376.2" y2="2491.48" stroke="#fff" stroke-width="13.5" />
<line x1="336.6" y1="2497.5" x2="391.8" y2="2471.9" stroke="#000" stroke-width="10.1" />
<line x1="336.6" y1="2522.2" x2="391.8" y2="2496.6" stroke="#000" stroke-width="10.1" />
<line x1="2101.7" y1="2502.62" x2="2125.7" y2="2491.48" stroke="#fff" stroke-width="13.5" />
<line x1="2086.1" y1="2497.5" x2="2141.3" y2="2471.9" stroke="#000" stroke-width="10.1" />
<line x1="2086.1" y1="2522.2" x2="2141.3" y2="2496.6" stroke="#000" stroke-width="10.1" />
<line x1="550.0" y1="3217.5" x2="550.0" y2="3245" stroke="#000" stroke-width="11.3" />
<text x="552" y="3305.5" font-size="53" text-anchor="middle" >100</text>
<line x1="736.2" y1="3217.5" x2="736.2" y2="3245" stroke="#000" stroke-width="11.3" />
<text x="736" y="3305.5" font-size="53" text-anchor="middle" >250</text>
<line x1="922.4" y1="3217.5" x2="922.4" y2="3245" stroke="#000" stroke-width="11.3" />
<text x="924.8" y="3308" font-size="53" text-anchor="middle" >350</text>
<line x1="1108.6" y1="3217.5" x2="1108.6" y2="3245" stroke="#000" stroke-width="11.3" />
<text x="1110.2" y="3308" font-size="53" text-anchor="middle" >500</text>
<line x1="1294.8" y1="3217.5" x2="1294.8" y2="3245" stroke="#000" stroke-width="11.3" />
<text x="1295" y="3304" font-size="53" text-anchor="middle" >650</text>
<line x1="1481.0" y1="3217.5" x2="1481.0" y2="3245" stroke="#000" stroke-width="11.3" />
<text x="1484.2" y="3308" font-size="53" text-anchor="middle" >800</text>
<line x1="1667.2" y1="3217.5" x2="1667.2" y2="3245" stroke="#000" stroke-width="11.3" />
<text x="1668.1" y="3308" font-size="53" text-anchor="middle" >800</text>
<line x1="1853.4" y1="3217.5" x2="1853.4" y2="3245" stroke="#000" stroke-width="11.3" />
<text x="1854.6" y="3302.5" font-size="53" text-anchor="middle" >800</text>
<line x1="2039.6" y1="3217.5" x2="2039.6" y2="3245" stroke="#000" stroke-width="11.3" />
<text x="2040.2" y="3308" font-size="53" text-anchor="middle" >800</text>
<line x1="456.9" y1="3217.5" x2="456.9" y2="3230.8" stroke="#000" stroke-width="10.9" />
<line x1="643.1" y1="3217.5" x2="643.1" y2="3230.8" stroke="#000" stroke-width="10.9" />
<line x1="829.3" y1="3217.5" x2="829.3" y2="3230.8" stroke="#000" stroke-width="10.9" />
<line x1="1015.5" y1="3217.5" x2="1015.5" y2="3230.8" stroke="#000" stroke-width="10.9" />
<line x1="1201.7" y1="3217.5" x2="1201.7" y2="3230.8" stroke="#000" stroke-width="10.9" />
<line x1="1387.9" y1="3217.5" x2="1387.9" y2="3230.8" stroke="#000" stroke-width="10.9" />
<line x1="1574.1" y1="3217.5" x2="1574.1" y2="3230.8" stroke="#000" stroke-width="10.9" />
<line x1="1760.3" y1="3217.5" x2="1760.3" y2="3230.8" stroke="#000" stroke-width="10.9" />
<line x1="1946.5" y1="3217.5" x2="1946.5" y2="3230.8" stroke="#000" stroke-width="10.9" />
<path d="M549.6 2053.0 L550.2 2052.7 L551.0 2052.3 L551.9 2051.9 L552.9 2051.4 L554.0 2050.8 L555.2 2050.3 L556.4 2049.2 L557.6 2048.2 L558.8 2049.2 L560.0 2047.0 L561.1 2048.0 L562.1 2047.2 L563.2 2045.9 L564.2 2047.0 L565.2 2045.2 L566.4 2046.1 L567.7 2044.8 L569.1 2044.6 L570.7 2045.3 L572.6 2046.3 L574.6 2043.9 L576.6 2044.0 L578.6 2045.0 L580.8 2045.8 L583.2 2044.5 L585.8 2043.7 L588.8 2045.3 L592.1 2042.3 L595.8 2044.6 L600.0 2042.7 L604.8 2042.0 L610.2 2041.7 L616.2 2042.0 L622.5 2043.3 L629.1 2041.1 L635.8 2042.1 L642.6 2042.1 L649.3 2041.1 L655.8 2041.6 L662.0 2040.1 L667.9 2040.1 L673.8 2040.7 L679.5 2042.3 L685.2 2041.8 L690.9 2041.7 L696.6 2042.9 L702.4 2042.8 L708.1 2042.7 L714.0 2044.5 L720.0 2044.6 L726.1 2043.6 L732.2 2045.0 L738.4 2045.3 L744.6 2046.9 L750.9 2046.9 L757.3 2046.1 L763.6 2048.6 L770.1 2046.5 L776.5 2047.8 L783.0 2049.2 L789.6 2047.7 L796.4 2048.9 L803.3 2047.8 L810.3 2049.9 L817.3 2050.4 L824.2 2050.0 L831.0 2051.1 L837.6 2049.6 L844.0 2050.9 L850.0 2050.8 L855.5 2050.9 L860.5 2050.7 L865.1 2051.9 L869.5 2052.3 L873.8 2051.0 L878.2 2051.7 L882.8 2050.1 L887.9 2052.2 L893.6 2052.2 L900.0 2053.6 L907.2 2053.4 L915.2 2052.2 L923.7 2053.0 L932.7 2054.3 L941.9 2052.9 L951.2 2054.7 L960.5 2054.4 L969.7 2054.9 L978.5 2055.3 L986.8 2058.1 L994.9 2056.9 L1003.1 2058.1 L1011.3 2059.4 L1019.4 2061.8 L1027.3 2060.4 L1035.0 2062.4 L1042.2 2063.6 L1049.0 2065.3 L1055.2 2065.7 L1060.7 2066.3 L1065.5 2064.8 L1069.6 2065.2 L1073.1 2065.0 L1076.2 2066.4 L1078.8 2066.3 L1081.2 2063.6 L1083.4 2063.3 L1085.6 2063.2 L1087.7 2062.9 L1090.0 2063.5 L1092.3 2063.6 L1094.3 2062.3 L1096.2 2061.2 L1098.0 2062.2 L1099.7 2061.7 L1101.3 2062.1 L1103.0 2063.0 L1104.7 2062.1 L1106.5 2061.6 L1108.4 2062.1 L1110.2 2062.5 L1111.7 2061.1 L1113.0 2064.2 L1114.3 2064.5 L1115.7 2065.5 L1117.4 2066.0 L1119.6 2065.4 L1122.3 2066.1 L1125.7 2065.8 L1130.0 2067.9 L1135.3 2066.6 L1141.5 2066.9 L1148.5 2067.6 L1156.0 2067.7 L1164.0 2068.4 L1172.2 2067.7 L1180.5 2067.7 L1188.7 2068.4 L1196.6 2068.5 L1204.0 2069.5 L1211.2 2068.7 L1218.6 2071.5 L1226.0 2071.0 L1233.3 2069.8 L1240.6 2070.4 L1247.7 2071.0 L1254.6 2071.4 L1261.3 2071.0 L1267.5 2073.6 L1273.4 2074.5 L1278.9 2073.4 L1284.2 2074.1 L1289.2 2073.6 L1293.9 2074.4 L1298.4 2075.9 L1302.6 2076.4 L1306.5 2078.9 L1310.2 2077.6 L1313.6 2077.9 L1316.8 2081.4 L1319.5 2080.7 L1321.5 2080.1 L1323.1 2081.9 L1324.3 2080.9 L1325.4 2082.9 L1326.5 2084.8 L1327.7 2085.0 L1329.3 2085.0 L1331.3 2084.3 L1334.0 2085.2 L1337.3 2085.2 L1341.0 2087.7 L1345.1 2087.7 L1349.5 2089.1 L1354.2 2088.5 L1358.9 2088.9 L1363.7 2091.4 L1368.5 2092.6 L1373.1 2092.9 L1377.6 2093.4 L1382.0 2094.1 L1386.4 2094.4 L1390.9 2093.3 L1395.4 2094.7 L1399.8 2094.7 L1404.3 2094.3 L1408.6 2094.8 L1412.9 2096.3 L1417.0 2097.0 L1421.0 2099.2 L1424.9 2101.1 L1428.7 2100.8 L1432.4 2103.7 L1436.0 2105.3 L1439.6 2106.8 L1443.1 2106.6 L1446.4 2107.6 L1449.7 2109.0 L1452.8 2110.1 L1455.8 2111.1 L1458.7 2113.2 L1461.4 2114.6 L1464.0 2115.0 L1466.5 2114.3 L1468.9 2115.2 L1471.2 2115.9 L1473.5 2114.0 L1475.7 2116.0 L1477.8 2117.0 L1480.0 2116.8 L1482.1 2117.0 L1484.1 2116.5 L1486.0 2115.9 L1487.9 2118.0 L1489.7 2116.9 L1491.5 2118.5 L1493.3 2119.2 L1495.2 2117.6 L1497.0 2117.7 L1499.0 2119.3 L1501.0 2118.6 L1503.0 2116.9 L1505.1 2116.6 L1507.1 2116.5 L1509.2 2118.5 L1511.3 2117.9 L1513.5 2115.7 L1515.6 2117.5 L1517.8 2117.7 L1520.0 2116.5 L1522.1 2115.3 L1523.9 2115.7 L1525.5 2114.3 L1527.2 2113.8 L1528.9 2116.4 L1530.9 2115.3 L1533.2 2114.7 L1536.0 2115.7 L1539.4 2113.9 L1543.4 2114.9 L1548.2 2114.5 L1553.8 2112.4 L1559.9 2112.2 L1566.5 2112.1 L1573.4 2111.6 L1580.5 2112.3 L1587.7 2110.9 L1594.9 2110.9 L1601.9 2109.5 L1608.6 2111.1 L1615.1 2108.6 L1621.6 2107.9 L1628.1 2107.2 L1634.6 2107.0 L1641.2 2104.3 L1647.7 2104.5 L1654.2 2102.0 L1660.7 2100.9 L1667.2 2099.7 L1673.7 2097.2 L1680.2 2097.4 L1686.7 2095.7 L1693.2 2094.2 L1699.7 2095.7 L1706.2 2092.9 L1712.8 2093.0 L1719.3 2092.9 L1725.8 2091.6 L1732.3 2090.1 L1738.8 2090.0 L1745.4 2089.4 L1752.3 2089.4 L1759.2 2086.7 L1766.1 2087.5 L1773.0 2086.0 L1779.8 2085.5 L1786.4 2086.5 L1792.6 2085.1 L1798.5 2084.6 L1804.0 2084.6 L1809.0 2084.3 L1813.6 2082.2 L1818.0 2081.9 L1822.0 2080.7 L1825.8 2079.9 L1829.4 2079.7 L1832.9 2078.2 L1836.3 2077.7 L1839.7 2076.9 L1843.0 2077.7 L1846.3 2076.5 L1849.3 2076.5 L1852.3 2076.3 L1855.1 2073.8 L1857.8 2074.3 L1860.5 2075.2 L1863.2 2074.6 L1865.8 2072.3 L1868.5 2072.2 L1871.3 2073.2 L1874.0 2072.3 L1876.5 2073.1 L1878.9 2073.1 L1881.2 2075.4 L1883.6 2076.4 L1886.2 2077.3 L1889.0 2075.7 L1892.1 2078.0 L1895.5 2078.3 L1899.5 2077.1 L1904.0 2079.7 L1908.9 2080.2 L1914.1 2078.1 L1919.7 2080.5 L1925.5 2079.0 L1931.4 2079.4 L1937.5 2081.1 L1943.7 2080.7 L1949.9 2078.8 L1956.0 2079.7 L1962.2 2080.0 L1968.5 2079.5 L1974.9 2079.0 L1981.4 2079.4 L1988.0 2080.5 L1994.6 2078.4 L2001.2 2080.0 L2007.9 2079.6 L2014.5 2078.4 L2021.0 2079.5 L2027.7 2080.6 L2034.6 2080.5 L2041.7 2079.4 L2048.8 2082.6 L2055.9 2082.3 L2062.8 2083.2 L2069.3 2081.0 L2075.5 2081.8 L2081.2 2081.4 L2086.2 2083.8 L2090.7 2082.5 L2094.7 2082.2 L2098.3 2083.2 L2101.5 2084.8 L2104.4 2084.5 L2107.0 2082.9 L2109.3 2082.6 L2111.2 2083.7 L2113.0 2083.8 L2114.5 2083.8" fill="none" stroke="#008080" stroke-width="22" stroke-linecap="butt" stroke-linejoin="round" />
<path d="M550.0 3134.0 L557.1 3134.1 L565.7 3134.3 L575.8 3134.5 L587.0 3134.7 L599.3 3134.9 L612.5 3135.1 L626.4 3135.4 L640.7 3135.6 L655.5 3135.9 L670.4 3136.1 L685.3 3136.3 L700.0 3136.5 L714.9 3136.7 L730.4 3136.9 L746.5 3137.0 L763.0 3137.2 L779.8 3137.4 L796.9 3137.6 L814.1 3137.7 L831.5 3137.9 L848.8 3138.0 L866.1 3138.2 L883.2 3138.4 L900.0 3138.5 L917.0 3138.7 L934.5 3138.8 L952.3 3139.0 L970.4 3139.1 L988.4 3139.3 L1006.2 3139.4 L1023.8 3139.6 L1040.7 3139.7 L1057.0 3139.8 L1072.5 3139.9 L1086.8 3140.0 L1100.0 3140.0 L1111.9 3140.0 L1122.7 3140.0 L1132.6 3139.9 L1141.7 3139.9 L1150.0 3139.8 L1157.8 3139.7 L1165.2 3139.6 L1172.2 3139.5 L1179.1 3139.4 L1185.9 3139.3 L1192.9 3139.1 L1200.0 3139.0 L1207.1 3138.9 L1213.9 3138.8 L1220.5 3138.7 L1226.9 3138.7 L1233.0 3138.6 L1239.1 3138.5 L1245.0 3138.4 L1250.9 3138.3 L1256.8 3138.1 L1262.8 3137.8 L1268.8 3137.4 L1275.0 3137.0 L1281.2 3136.5 L1287.5 3135.9 L1293.8 3135.3 L1300.0 3134.6 L1306.2 3133.9 L1312.5 3133.1 L1318.8 3132.2 L1325.0 3131.4 L1331.2 3130.4 L1337.5 3129.5 L1343.8 3128.5 L1350.0 3127.5 L1356.3 3126.4 L1362.8 3125.3 L1369.3 3124.0 L1375.8 3122.7 L1382.4 3121.4 L1388.9 3120.0 L1395.3 3118.7 L1401.7 3117.3 L1407.8 3116.0 L1413.8 3114.8 L1419.5 3113.6 L1425.0 3112.5 L1430.3 3111.5 L1435.4 3110.5 L1440.5 3109.5 L1445.3 3108.6 L1450.1 3107.7 L1454.6 3106.9 L1459.0 3106.1 L1463.2 3105.3 L1467.2 3104.6 L1470.9 3103.9 L1474.4 3103.3 L1477.7 3102.7 L1480.6 3102.2 L1483.2 3101.8 L1485.5 3101.4 L1487.5 3101.1 L1489.3 3100.8 L1491.0 3100.5 L1492.5 3100.3 L1493.9 3100.2 L1495.4 3100.0 L1496.8 3099.8 L1498.4 3099.7 L1500.0 3099.5 L1501.7 3099.3 L1503.3 3099.2 L1504.8 3099.0 L1506.3 3098.9 L1507.8 3098.8 L1509.3 3098.7 L1510.8 3098.6 L1512.3 3098.5 L1513.8 3098.5 L1515.5 3098.5 L1517.2 3098.5 L1519.0 3098.5 L1520.9 3098.6 L1522.8 3098.6 L1524.8 3098.7 L1526.8 3098.9 L1528.8 3099.0 L1530.9 3099.2 L1533.1 3099.4 L1535.3 3099.6 L1537.6 3099.8 L1540.0 3100.0 L1542.5 3100.2 L1545.0 3100.5 L1547.5 3100.8 L1549.9 3101.0 L1552.3 3101.3 L1554.7 3101.6 L1557.2 3102.0 L1559.8 3102.3 L1562.5 3102.7 L1565.5 3103.0 L1568.8 3103.4 L1572.5 3103.8 L1576.5 3104.3 L1581.0 3104.7 L1586.0 3105.2 L1591.6 3105.6 L1597.6 3106.1 L1603.9 3106.6 L1610.5 3107.1 L1617.4 3107.6 L1624.4 3108.2 L1631.5 3108.8 L1638.6 3109.4 L1645.5 3110.1 L1652.4 3110.8 L1659.0 3111.5 L1665.4 3112.3 L1671.6 3113.2 L1677.8 3114.1 L1683.9 3115.0 L1690.0 3116.0 L1696.2 3117.1 L1702.4 3118.1 L1708.8 3119.1 L1715.3 3120.1 L1722.1 3121.1 L1729.1 3122.1 L1736.5 3123.0 L1744.2 3123.9 L1752.2 3124.8 L1760.5 3125.7 L1769.1 3126.6 L1777.8 3127.4 L1786.6 3128.3 L1795.5 3129.1 L1804.5 3129.9 L1813.5 3130.7 L1822.4 3131.5 L1831.3 3132.3 L1840.0 3133.0 L1848.6 3133.7 L1857.3 3134.4 L1865.9 3135.1 L1874.6 3135.7 L1883.2 3136.4 L1891.9 3137.0 L1900.5 3137.6 L1909.2 3138.1 L1917.8 3138.6 L1926.4 3139.1 L1935.1 3139.6 L1943.7 3140.0 L1952.4 3140.4 L1961.3 3140.7 L1970.4 3141.0 L1979.5 3141.3 L1988.5 3141.5 L1997.6 3141.7 L2006.4 3141.9 L2015.2 3142.0 L2023.6 3142.2 L2031.8 3142.3 L2039.6 3142.4 L2047.0 3142.5 L2054.1 3142.6 L2061.2 3142.6 L2068.2 3142.7 L2074.9 3142.7 L2081.5 3142.7 L2087.7 3142.7 L2093.6 3142.6 L2099.0 3142.6 L2104.0 3142.6 L2108.5 3142.5 L2112.3 3142.5 L2115.5 3142.5" fill="none" stroke="#800000" stroke-width="22" stroke-linecap="butt" stroke-linejoin="round" />
<line x1="1277" y1="2065" x2="1277" y2="3158.5" stroke="#000" stroke-width="11" stroke-dasharray="30 23 1.5 22.5"/>
<text x="944.8" y="3424.8" font-size="72.4" text-anchor="start" word-spacing="6.5">Temperature (&#176;C)</text>
<text transform="translate(105 2685) rotate(-90)" font-size="72">Intensity (a.u)</text>
<text x="44.5" y="1861.5" font-size="74" text-anchor="start" >(b)</text>
<line x1="414" y1="2277.7" x2="578.5" y2="2277.7" stroke="#800000" stroke-width="22" />
<line x1="414" y1="2368" x2="578.5" y2="2368" stroke="#008080" stroke-width="22" />
<text x="597.5" y="2303.2" font-size="73.5" text-anchor="start" >CO (m/z=28)</text>
<text x="597.5" y="2393.5" font-size="73.5">CO<tspan font-size="44" dy="24.2">2</tspan><tspan dy="-24.2"> (m/z=44)</tspan></text>
<text x="1155.4" y="2021.5" font-size="86.5">647 <tspan x="1316.6" y="2034.2" font-family="'DejaVu Sans Light', 'DejaVu Sans', sans-serif" font-weight="200" font-size="97.5" >&#176;</tspan><tspan x="1358.6" y="2021.5">C</tspan></text>
<text x="1393.5" y="2310.7" font-size="73.3" text-anchor="start" >Carbon gazeification</text>
<text x="1501" y="2982" font-size="73.2" text-anchor="start" >CO generation</text>
<line x1="1525.8" y1="2249.5" x2="1486.5" y2="2160.1" stroke="#000" stroke-width="7.8" />
<polygon points="1472.6,2128.6 1497.0,2158.7 1478.3,2166.9" fill="#000" stroke="#000" stroke-width="2.6" stroke-linejoin="round"/>
<line x1="1582.1" y1="2990.5" x2="1531.8" y2="3049.9" stroke="#000" stroke-width="7.5" />
<polygon points="1509.8,3075.8 1526.3,3041.4 1541.1,3053.9" fill="#000" stroke="#000" stroke-width="2.6" stroke-linejoin="round"/>
</g>
</svg></body></html>
